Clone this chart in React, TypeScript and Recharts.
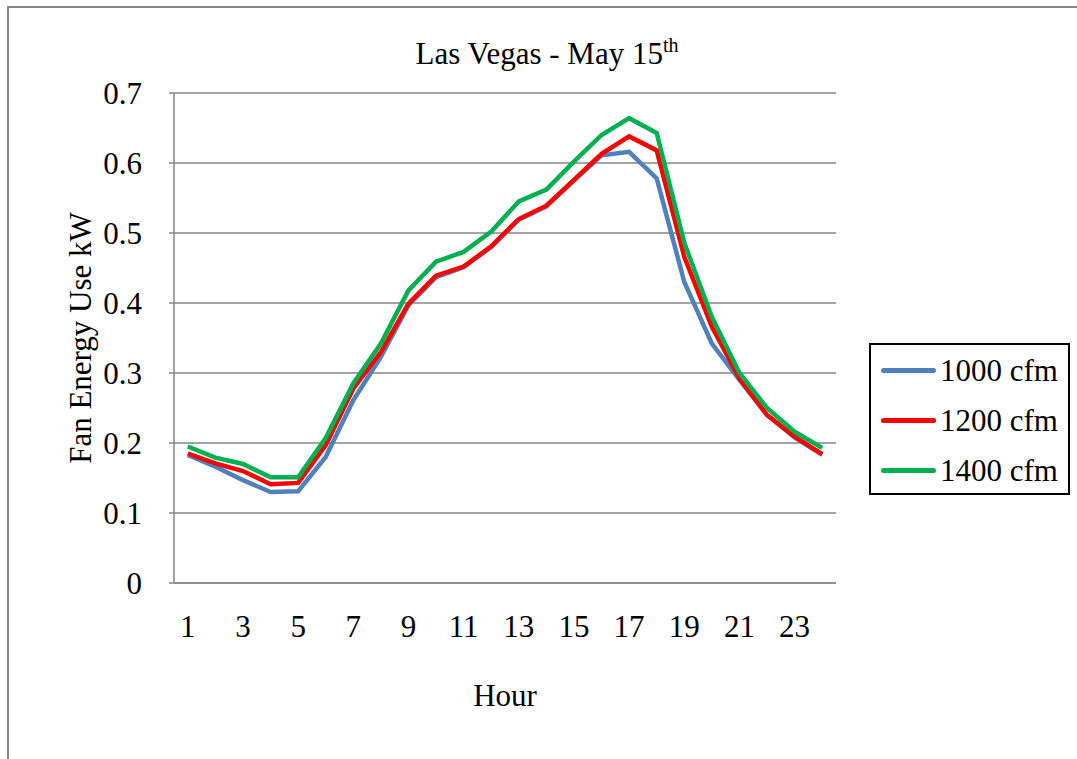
import { LineChart, Line, XAxis, YAxis, CartesianGrid, Legend, Label } from 'recharts';

const hours = ['1', '2', '3', '4', '5', '6', '7', '8', '9', '10', '11', '12', '13', '14', '15', '16', '17', '18', '19', '20', '21', '22', '23', '24'];
const cfm1000 = [0.183, 0.166, 0.147, 0.130, 0.131, 0.180, 0.261, 0.323, 0.397, 0.437, 0.451, 0.480, 0.519, 0.538, 0.575, 0.611, 0.616, 0.578, 0.430, 0.342, 0.290, 0.240, 0.208, 0.183];
const cfm1200 = [0.185, 0.171, 0.160, 0.141, 0.143, 0.197, 0.278, 0.330, 0.399, 0.439, 0.452, 0.481, 0.520, 0.539, 0.576, 0.613, 0.638, 0.618, 0.466, 0.366, 0.292, 0.240, 0.209, 0.184];
const cfm1400 = [0.195, 0.179, 0.170, 0.151, 0.151, 0.207, 0.285, 0.342, 0.418, 0.459, 0.473, 0.502, 0.545, 0.562, 0.602, 0.640, 0.664, 0.643, 0.486, 0.380, 0.300, 0.250, 0.216, 0.193];
const yTicks = [0, 0.1, 0.2, 0.3, 0.4, 0.5, 0.6, 0.7];

const FONT = '"Liberation Serif", "Times New Roman", serif';
const GRID = '#868686';

const data = hours.map((h, i) => ({
  hour: h,
  a: cfm1000[i],
  b: cfm1200[i],
  c: cfm1400[i],
}));

function LegendBox({ payload }: any) {
  return (
    <div
      style={{
        border: '2px solid #000',
        boxSizing: 'border-box',
        width: 201,
        height: 152,
        padding: '0 0 0 10px',
        background: '#fff',
        fontFamily: FONT,
        fontSize: 31,
        color: '#000',
      }}
    >
      {(payload || []).map((p: any) => (
        <div key={p.value} style={{ display: 'flex', alignItems: 'center', height: 50 }}>
          <span style={{ display: 'inline-block', width: 55, height: 5, borderRadius: 3, background: p.color, marginRight: 4 }} />
          <span style={{ lineHeight: '31px' }}>{p.value}</span>
        </div>
      ))}
    </div>
  );
}

export default function App() {
  return (
    <div style={{ position: 'absolute', left: 0, top: 0, width: 1077, height: 759, background: '#fff', fontFamily: FONT }}>
      <div style={{ position: 'absolute', left: 7, top: 6, width: 1070, height: 753, borderLeft: `2px solid ${GRID}`, borderTop: `2px solid ${GRID}` }} />
      <svg width={1077} height={90} style={{ position: 'absolute', left: 0, top: 0 }}>
        <text x={547} y={64} textAnchor="middle" fontFamily={FONT} fontSize={31} fill="#000">
          Las Vegas - May 15<tspan dy={-12} fontSize={20}>th</tspan>
        </text>
      </svg>
      <div style={{ position: 'absolute', left: 0, top: 0 }}>
        <LineChart width={1077} height={759} data={data} margin={{ top: 93, right: 241, bottom: 0, left: 0 }}>
          <CartesianGrid vertical={false} stroke={GRID} strokeWidth={1.5} />
          <XAxis
            dataKey="hour"
            type="category"
            interval={1}
            height={176}
            padding={{ left: 13.8, right: 13.8 }}
            axisLine={{ stroke: GRID, strokeWidth: 1.5 }}
            tickLine={false}
            tickSize={0}
            tickMargin={32}
            tick={{ fill: '#000', fontSize: 31, fontFamily: FONT }}
          >
            <Label
              content={({ viewBox }: any) => (
                <text x={viewBox.x + viewBox.width / 2} y={viewBox.y + 123} textAnchor="middle" fontFamily={FONT} fontSize={31} fill="#000">
                  Hour
                </text>
              )}
            />
          </XAxis>
          <YAxis
            width={174}
            domain={[0, 0.7]}
            ticks={yTicks}
            tickFormatter={(v: number) => (v === 0 ? '0' : v.toFixed(1))}
            axisLine={{ stroke: GRID, strokeWidth: 1.5 }}
            tickLine={{ stroke: GRID, strokeWidth: 1.5 }}
            tickSize={5}
            tickMargin={27}
            tick={{ fill: '#000', fontSize: 31, fontFamily: FONT }}
          >
            <Label
              content={({ viewBox }: any) => {
                const cx = viewBox.x + 91;
                const cy = viewBox.y + viewBox.height / 2;
                return (
                  <text x={cx} y={cy} transform={`rotate(-90, ${cx}, ${cy})`} textAnchor="middle" fontFamily={FONT} fontSize={31} fill="#000">
                    Fan Energy Use kW
                  </text>
                );
              }}
            />
          </YAxis>
          <Legend
            layout="horizontal"
            align="center"
            verticalAlign="middle"
            content={<LegendBox />}
            wrapperStyle={{ left: 869, top: 343, width: 201, height: 152 }}
          />
          <Line type="linear" dataKey="a" name="1000 cfm" stroke="#4F81BD" strokeWidth={4.5} dot={false} isAnimationActive={false} />
          <Line type="linear" dataKey="b" name="1200 cfm" stroke="#FF0000" strokeWidth={4.5} dot={false} isAnimationActive={false} />
          <Line type="linear" dataKey="c" name="1400 cfm" stroke="#00B050" strokeWidth={4.5} dot={false} isAnimationActive={false} />
        </LineChart>
      </div>
    </div>
  );
}
